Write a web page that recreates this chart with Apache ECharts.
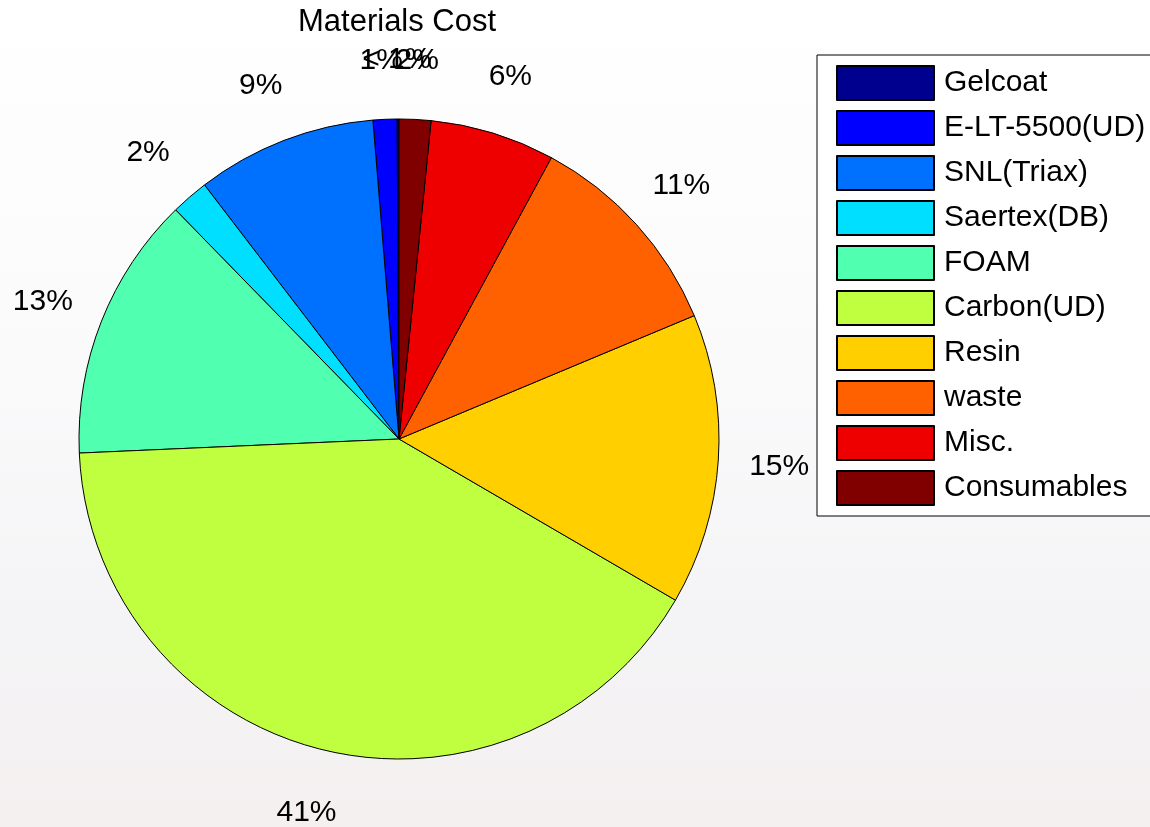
<!DOCTYPE html>
<html>
<head>
<meta charset="utf-8">
<title>Materials Cost</title>
<script src="https://cdn.jsdelivr.net/npm/echarts@6/dist/echarts.min.js"></script>
<style>
  html, body { margin: 0; padding: 0; background: #ffffff; }
  #chart { width: 1150px; height: 827px; }
</style>
</head>
<body>
<div id="chart"></div>
<script>
// Share of total materials cost per item (percent)
const categories = ['Gelcoat', 'E-LT-5500(UD)', 'SNL(Triax)', 'Saertex(DB)', 'FOAM',
                    'Carbon(UD)', 'Resin', 'waste', 'Misc.', 'Consumables'];
const costShare = [0.1, 1.2, 9.1, 1.9, 13.4, 40.9, 14.7, 10.8, 6.3, 1.6];
// jet colormap sampled for ten slices
const sliceColors = ['#00008f', '#0000ff', '#0070ff', '#00dfff', '#50ffb0',
                     '#bfff40', '#ffcf00', '#ff6000', '#ef0000', '#800000'];

const FONT = '"Liberation Sans", Arial, Helvetica, sans-serif';
const CENTER = [399, 439];
const R = 320;

const total = costShare.reduce((a, b) => a + b, 0);

const pieData = categories.map((name, i) => ({
  name,
  value: costShare[i],
  itemStyle: { color: sliceColors[i] }
}));

// Percentage labels: one point per slice on an outer ring, at the slice's mid angle
let cum = 0;
const labelPoints = costShare.map((v) => {
  const mid = (cum + v / 2) / total * 100;
  cum += v;
  return [1, mid, v / total * 100];
});

function pctText(p) {
  const pct = p.value[2];
  return pct < 1 ? '< 1%' : Math.round(pct) + '%';
}

const chart = echarts.init(document.getElementById('chart'), null, { renderer: 'canvas' });
chart.setOption({
  animation: false,
  backgroundColor: {
    type: 'linear', x: 0, y: 0, x2: 0, y2: 1,
    colorStops: [
      { offset: 0, color: '#ffffff' },
      { offset: 0.45, color: '#fafafb' },
      { offset: 0.75, color: '#f4f4f6' },
      { offset: 1, color: '#f4f0f0' }
    ]
  },
  title: {
    text: 'Materials Cost',
    left: 298,
    top: 7,
    padding: 0,
    textStyle: { fontFamily: FONT, fontSize: 31, fontWeight: 'normal', color: '#000' }
  },
  legend: {
    orient: 'vertical',
    left: 817,
    top: 55,
    padding: [10, 40, 10, 19],
    itemWidth: 97,
    itemHeight: 34,
    itemGap: 9,
    icon: 'rect',
    backgroundColor: '#ffffff',
    borderColor: '#000000',
    borderWidth: 1,
    borderRadius: 0,
    selectedMode: false,
    data: categories,
    textStyle: {
      fontFamily: FONT, fontSize: 30, color: '#000',
      lineHeight: 22, padding: [8, 0, 0, 5]
    }
  },
  polar: { center: [398, 442], radius: 382 },
  angleAxis: {
    type: 'value', min: 0, max: 100, startAngle: 90, clockwise: false, show: false
  },
  radiusAxis: { type: 'value', min: 0, max: 1, show: false },
  series: [
    {
      name: 'cost',
      type: 'pie',
      center: CENTER,
      radius: R,
      startAngle: 90,
      clockwise: false,
      avoidLabelOverlap: false,
      silent: true,
      itemStyle: { borderColor: '#000', borderWidth: 1 },
      label: { show: false },
      labelLine: { show: false },
      emphasis: { disabled: true },
      data: pieData
    },
    {
      name: 'percent',
      type: 'scatter',
      coordinateSystem: 'polar',
      symbol: 'circle',
      symbolSize: 1,
      itemStyle: { color: 'rgba(0,0,0,0)', opacity: 1 },
      silent: true,
      label: {
        show: true,
        position: 'inside',
        formatter: pctText,
        fontFamily: FONT,
        fontSize: 30,
        color: '#000000',
        opacity: 1
      },
      emphasis: { disabled: true },
      data: labelPoints
    }
  ]
});
</script>
</body>
</html>
